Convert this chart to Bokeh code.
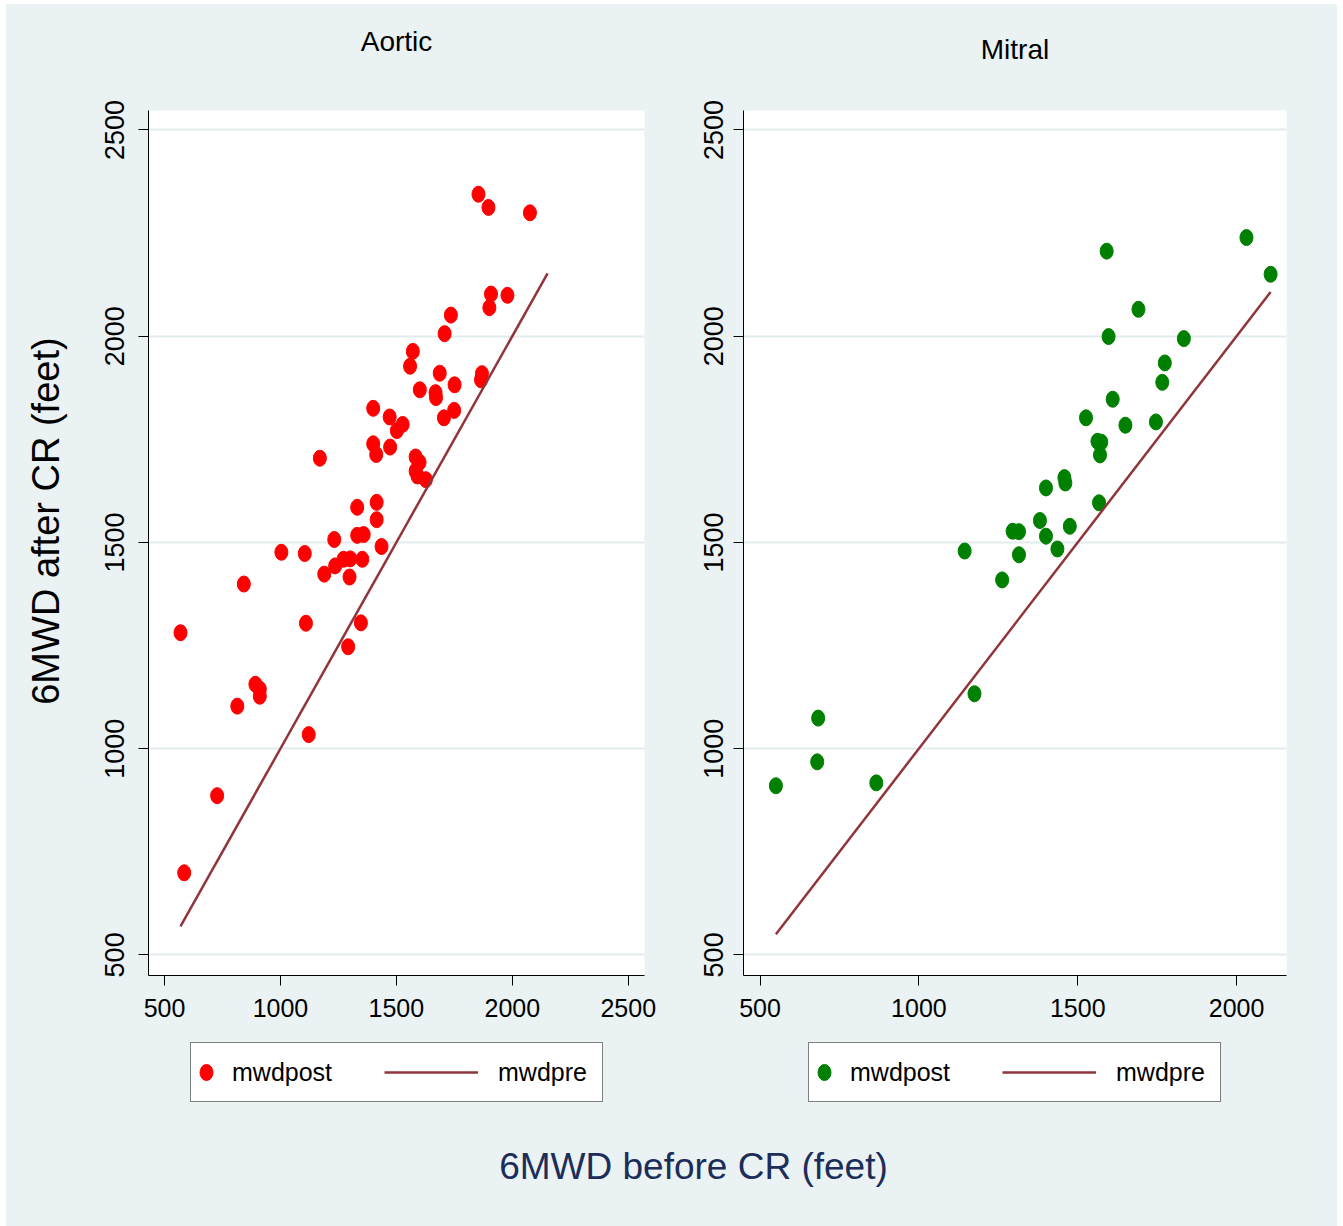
import math
from bokeh.plotting import figure
from bokeh.models import Range1d, FixedTicker, Legend, LegendItem, Label, LinearAxis
from bokeh.layouts import column, row
from bokeh.embed import file_html
from bokeh.resources import INLINE

# ---------------- data ----------------
panel_titles = ["Aortic", "Mitral"]
series_labels = ["mwdpost", "mwdpre"]
x_title = "6MWD before CR (feet)"
y_title = "6MWD after CR (feet)"

aortic_pre = [1854, 1897, 2076, 1908, 1979, 1901, 1735, 1708, 1571, 1559,
              1687, 1869, 1865, 1751, 1601, 1669, 1671, 1749, 1705, 1400,
              1471, 1527, 1502, 1400, 1473, 1413, 1170, 1583, 1600, 1583,
              1591, 1627, 1415, 1331, 1415, 1232, 1331, 1359, 1436, 1004,
              1105, 1272, 1301, 1236, 1353, 1189, 1298, 842, 569, 1110,
              1347, 1292, 892, 911, 911, 814, 1122, 727, 585]
aortic_post = [2344, 2312, 2299, 2102, 2099, 2069, 2051, 2006, 1963, 1927,
               1910, 1909, 1894, 1882, 1870, 1863, 1851, 1820, 1802, 1825,
               1804, 1786, 1771, 1739, 1731, 1713, 1704, 1707, 1694, 1673,
               1661, 1652, 1597, 1585, 1555, 1507, 1517, 1519, 1490, 1476,
               1473, 1459, 1460, 1443, 1459, 1423, 1416, 1399, 1281, 1304,
               1305, 1247, 1156, 1144, 1127, 1103, 1034, 886, 699]
aortic_line_pre = [569, 2152]

mitral_pre = [1591, 2031, 2107, 1691, 1597, 1834, 1774, 1766, 1610, 1526,
              1650, 1746, 1562, 1574, 1570, 1458, 1461, 1400, 1567, 1381,
              1295, 1315, 1475, 1400, 1436, 1315, 1144, 1262, 1175, 683,
              680, 550, 866]
mitral_post = [2206, 2239, 2150, 2065, 1999, 1994, 1935, 1888, 1847, 1802,
               1784, 1792, 1745, 1743, 1712, 1657, 1644, 1632, 1596, 1553,
               1527, 1526, 1539, 1515, 1484, 1470, 1479, 1409, 1133, 1074,
               968, 910, 917]
mitral_line_pre = [550, 2107]

aortic_xticks = [500, 1000, 1500, 2000, 2500]
mitral_xticks = [500, 1000, 1500, 2000]
yticks = [500, 1000, 1500, 2000, 2500]

# ---------------- style ----------------
BG = "#EAF2F3"
GRID = "#E2EBEE"
LINE = "#90353B"
NAVY = "#1C2D5A"
RED = "#FF0000"
GREEN = "#008000"
FONT = "Liberation Sans"

FIG_H = 1026
TOP = 106
FRAME_H = 865
BOTTOM = FIG_H - TOP - FRAME_H
Y_RANGE = (450, 2547)
W_Y, W_A, W_B = 80, 606, 645
W = W_Y + W_A + W_B
H_C = 1222 - FIG_H
LINE_W = 2.5
DOT_W, DOT_H = 13, 16


def make_panel(title, pre, post, line_pre, color, xr, xticks, width, bl, br,
               ylab_standoff, title_standoff):
    p = figure(width=width, height=FIG_H, x_range=Range1d(*xr),
               y_range=Range1d(*Y_RANGE), output_backend="svg",
               toolbar_location=None, min_border_left=bl, min_border_right=br,
               min_border_top=TOP, min_border_bottom=BOTTOM)
    p.background_fill_color = "white"
    p.border_fill_color = BG
    p.outline_line_color = None

    p.xgrid.visible = False
    p.ygrid.grid_line_color = GRID
    p.ygrid.grid_line_width = 2

    for ax in (p.xaxis[0], p.yaxis[0]):
        ax.axis_line_color = "black"
        ax.axis_line_width = 1
        ax.major_tick_line_color = "black"
        ax.major_tick_in = 0
        ax.major_tick_out = 10
        ax.minor_tick_line_color = None
        ax.major_label_text_color = "black"
    p.xaxis.ticker = FixedTicker(ticks=xticks)
    p.yaxis.ticker = FixedTicker(ticks=yticks)
    p.xaxis.major_label_text_font = FONT
    p.xaxis.major_label_text_font_size = "25px"
    p.xaxis.major_label_standoff = 13
    p.yaxis.major_label_text_font = FONT
    p.yaxis.major_label_text_font_size = "27px"
    p.yaxis.major_label_orientation = "vertical"
    p.yaxis.major_label_standoff = ylab_standoff

    # panel title as the label of an empty axis above the frame
    top_ax = LinearAxis(ticker=FixedTicker(ticks=[]), axis_label=title,
                        axis_line_color=None, major_tick_line_color=None,
                        minor_tick_line_color=None, major_tick_in=0,
                        major_tick_out=0, minor_tick_in=0, minor_tick_out=0,
                        major_label_standoff=0,
                        axis_label_standoff=title_standoff,
                        axis_label_text_font=FONT,
                        axis_label_text_font_size="28px",
                        axis_label_text_font_style="normal",
                        axis_label_text_color="black")
    p.add_layout(top_ax, "above")

    p.ellipse(x=pre, y=post, width=DOT_W, height=DOT_H,
              width_units="screen", height_units="screen",
              fill_color=color, line_color=color)
    p.line(x=line_pre, y=line_pre, line_color=LINE, line_width=LINE_W)
    return p


pA = make_panel(panel_titles[0], aortic_pre, aortic_post, aortic_line_pre,
                RED, (431, 2570), aortic_xticks, W_A, 142 - W_Y, 48, 14, 54)
pB = make_panel(panel_titles[1], mitral_pre, mitral_post, mitral_line_pre,
                GREEN, (448, 2157), mitral_xticks, W_B, 51, 51, 10, 46)

# ---------------- left strip: rotated y title ----------------
pY = figure(width=W_Y, height=FIG_H, x_range=Range1d(0, W_Y),
            y_range=Range1d(0, FIG_H), output_backend="svg",
            toolbar_location=None, x_axis_location=None, y_axis_location=None,
            min_border=0, min_border_left=0, min_border_right=0,
            min_border_top=0, min_border_bottom=0)
pY.background_fill_color = BG
pY.border_fill_color = BG
pY.outline_line_color = None
pY.xgrid.visible = False
pY.ygrid.visible = False
pY.add_layout(Label(x=39, y=539, text=y_title,
                    angle=math.pi / 2, text_align="center",
                    text_baseline="middle", text_font=FONT,
                    text_font_size="38px", text_color="black"))

# ---------------- bottom strip: legends + common x title ----------------
pC = figure(width=W, height=H_C, x_range=Range1d(0, W), y_range=Range1d(0, H_C),
            output_backend="svg", toolbar_location=None,
            x_axis_location=None, y_axis_location=None,
            min_border=0, min_border_left=0, min_border_right=0,
            min_border_top=0, min_border_bottom=0)
pC.background_fill_color = BG
pC.border_fill_color = BG
pC.outline_line_color = None
pC.xgrid.visible = False
pC.ygrid.visible = False

# legend key renderers: same series, they fall outside this strip's ranges
key_red = pC.ellipse(x=aortic_pre, y=aortic_post, width=DOT_W, height=DOT_H,
                     width_units="screen", height_units="screen",
                     fill_color=RED, line_color=RED)
key_green = pC.ellipse(x=mitral_pre, y=mitral_post, width=DOT_W, height=DOT_H,
                       width_units="screen", height_units="screen",
                       fill_color=GREEN, line_color=GREEN)
key_line = pC.line(x=aortic_line_pre, y=aortic_line_pre, line_color=LINE,
                   line_width=LINE_W)

LEG_Y = 124
common = dict(orientation="horizontal", padding=5, margin=0, glyph_height=48,
              label_text_font=FONT, label_text_font_size="25px",
              label_text_color="black")


def add_legend(dot_renderer, box_left):
    leg1 = Legend(items=[LegendItem(label=series_labels[0],
                                    renderers=[dot_renderer])],
                  location=(box_left, LEG_Y), glyph_width=20, label_standoff=16,
                  label_width=365, border_line_color="black",
                  border_line_width=1, background_fill_color="white",
                  background_fill_alpha=1, **common)
    leg2 = Legend(items=[LegendItem(label=series_labels[1],
                                    renderers=[key_line])],
                  location=(box_left + 194, LEG_Y + 6), glyph_width=94,
                  label_standoff=20, border_line_color=None,
                  background_fill_alpha=0, **common)
    pC.add_layout(leg1, "center")
    pC.add_layout(leg2, "center")


add_legend(key_red, 190 - 6)
add_legend(key_green, 808 - 6)

pC.add_layout(Label(x=693 - 6, y=1226 - 1182 + 16, text=x_title,
                    text_align="center", text_baseline="alphabetic",
                    text_font=FONT, text_font_size="37px", text_color=NAVY))

layout = column(row(pY, pA, pB, styles={"background-color": BG}), pC,
                margin=(4, 6, 0, 6), styles={"background-color": BG})
open("out.html", "w").write(file_html(layout, INLINE))
